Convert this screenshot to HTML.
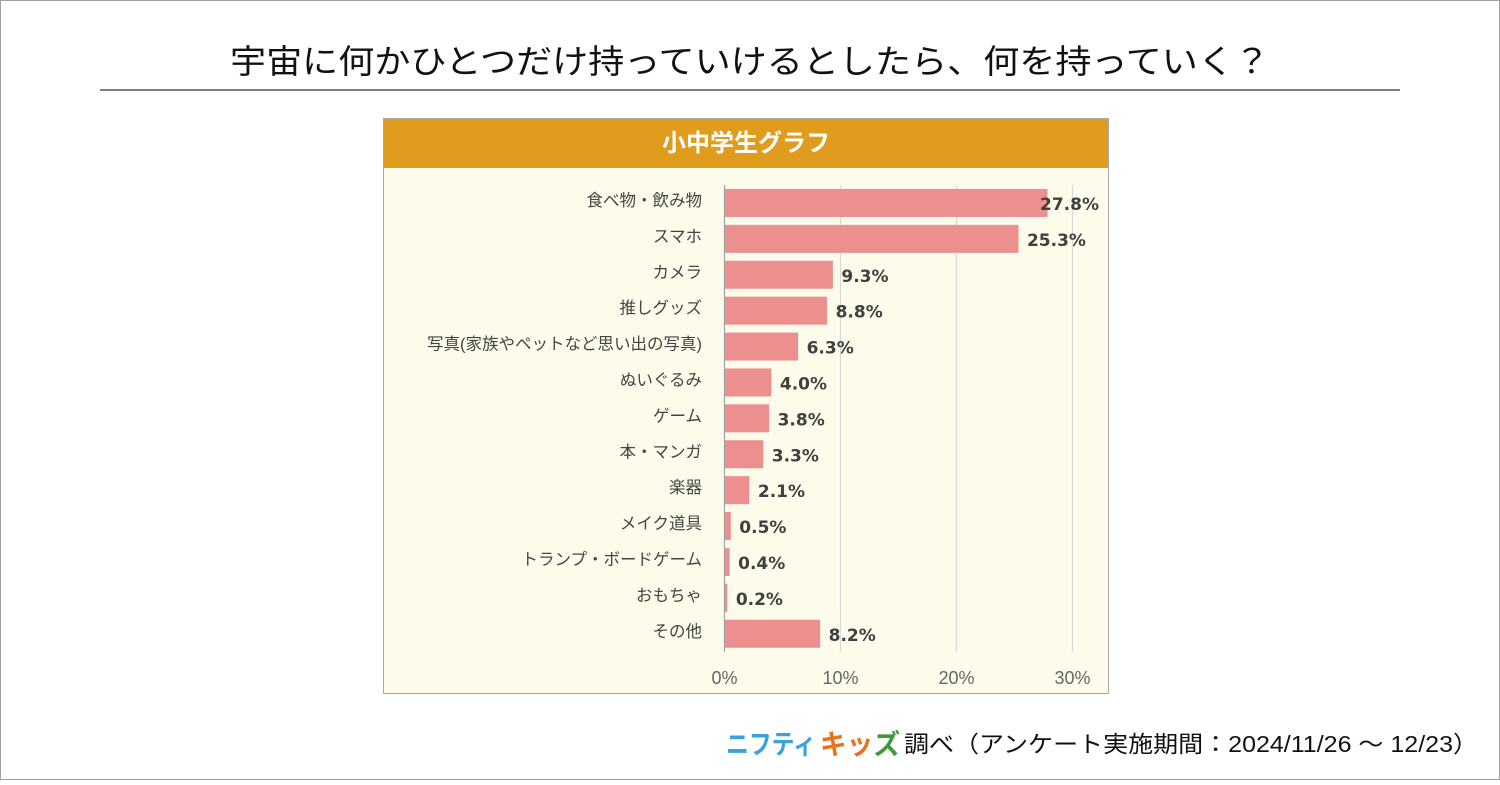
<!DOCTYPE html>
<html><head><meta charset="utf-8">
<style>
body{margin:0;background:#fff;}
svg text{font-family:"Liberation Sans","Noto Sans CJK JP",sans-serif;}
svg text.val{font-family:"DejaVu Sans",sans-serif;font-weight:bold;}
</style></head>
<body>
<svg width="1500" height="780" xmlns="http://www.w3.org/2000/svg">
<rect x="0.5" y="0.5" width="1499" height="779" fill="#fff" stroke="#a0a0a0"/>
<text x="230" y="73" font-size="33" textLength="1040" lengthAdjust="spacingAndGlyphs" fill="#111">宇宙に何かひとつだけ持っていけるとしたら、何を持っていく？</text>
<line x1="100" y1="90" x2="1400" y2="90" stroke="#808080" stroke-width="2"/>
<rect x="383.5" y="118.5" width="725" height="575" fill="#fdfbea" stroke="#a8a8a8"/>
<rect x="384" y="119" width="724" height="49" fill="#e09c1c"/>
<text x="746" y="151" font-size="24" font-weight="bold" fill="#fff" text-anchor="middle">小中学生グラフ</text>
<g id="plot"></g>
<text x="726" y="754" font-size="27" font-weight="bold" textLength="90" lengthAdjust="spacingAndGlyphs" fill="#3aa3dd">ニフティ</text>
<text x="820" y="754" font-size="28" font-weight="bold" textLength="80" lengthAdjust="spacingAndGlyphs" fill="#e8731c">キッ<tspan fill="#3e9a3a">ズ</tspan></text>
<text x="904" y="752" font-size="23" textLength="574" lengthAdjust="spacingAndGlyphs" fill="#111">調べ（アンケート実施期間：2024/11/26 ～ 12/23）</text>
</svg>
<script>
const categories=["食べ物・飲み物","スマホ","カメラ","推しグッズ","写真(家族やペットなど思い出の写真)","ぬいぐるみ","ゲーム","本・マンガ","楽器","メイク道具","トランプ・ボードゲーム","おもちゃ","その他"];
const values=[27.8,25.3,9.3,8.8,6.3,4.0,3.8,3.3,2.1,0.5,0.4,0.2,8.2];
const ticks=[0,10,20,30];
const tickLabels=["0%","10%","20%","30%"];
const NS="http://www.w3.org/2000/svg";
const g=document.getElementById('plot');
const x0=724.5,pxPer=11.6,yTop=185,band=35.9;
const xs=v=>x0+v*pxPer;
const yc=i=>yTop+band*(i+0.5);
function mk(t,a){const e=document.createElementNS(NS,t);for(const k in a)e.setAttribute(k,a[k]);g.appendChild(e);return e;}
ticks.forEach((t,i)=>{
 const l=mk('line',{x1:xs(t),x2:xs(t),y1:yTop,y2:yTop+band*categories.length,stroke:i===0?'#a0a0a0':'#d9d9d9','stroke-width':1.2});
 
 
 const tx=mk('text',{x:xs(t),y:684,'font-size':18,fill:'#666','text-anchor':'middle'});
 tx.textContent=tickLabels[i];
 
 
});
categories.forEach((c,i)=>{
 const y=yc(i);
 const r=mk('rect',{x:x0+0.5,y:y-14,width:Math.max(values[i]*pxPer,1.5),height:28,fill:'#ec8f8f'});
 
 
 const lb=mk('text',{x:702,y:y+3,'font-size':16.5,fill:'#444','text-anchor':'end'});
 lb.textContent=c;
 
 
 const vl=mk('text',{x:Math.min(xs(values[i])+9,1040),y:y+7,'font-size':17,fill:'#404040','class':'val'});
 vl.textContent=values[i].toFixed(1)+'%';
 
 
});
</script>
</body></html>
